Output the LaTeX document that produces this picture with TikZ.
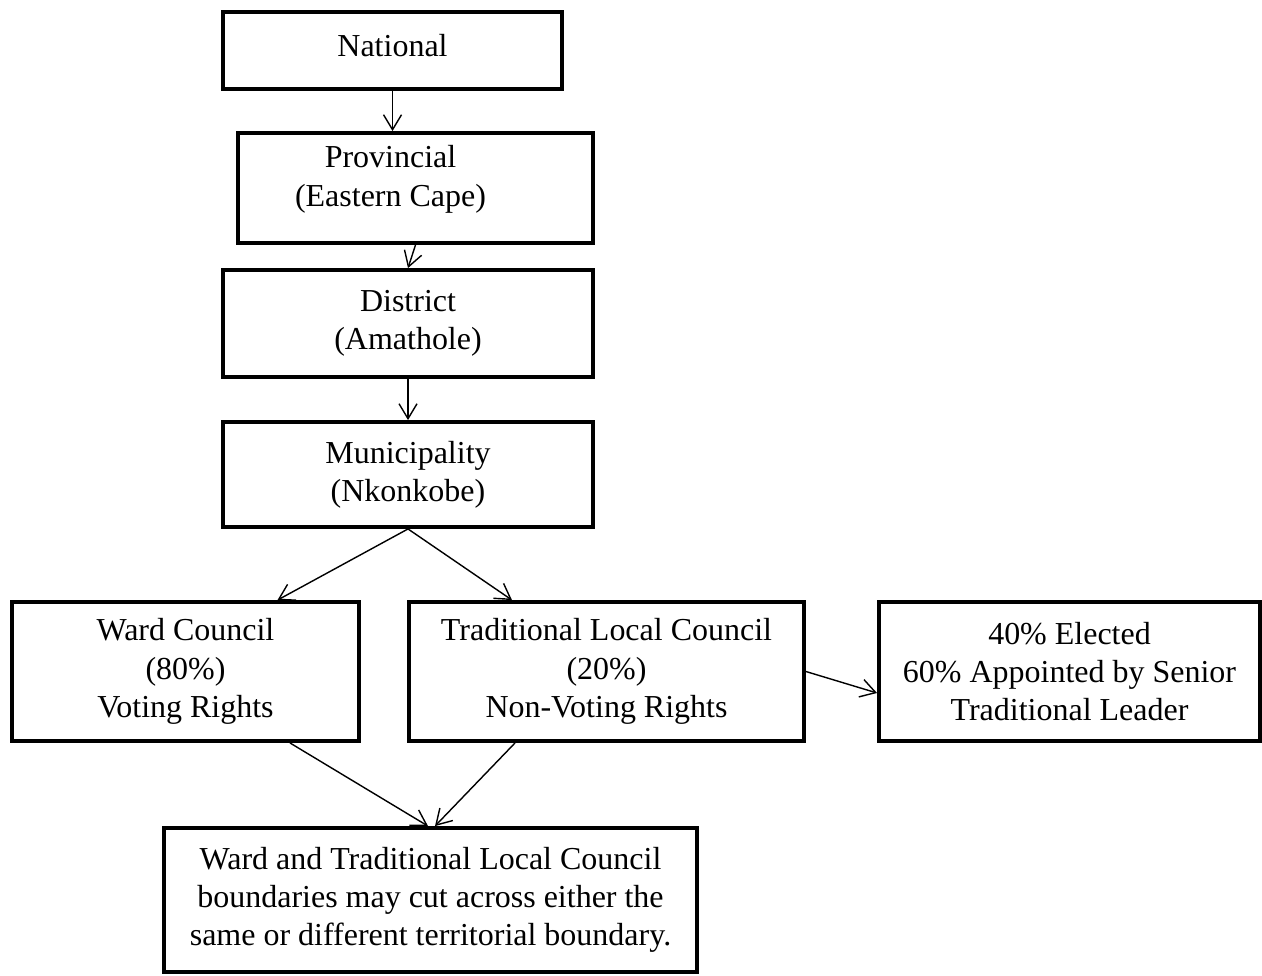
\documentclass[tikz,border=0pt]{standalone}
\usepackage{fontspec}
\setmainfont{Liberation Serif}
\usetikzlibrary{arrows.meta}
\begin{document}
\begin{tikzpicture}[
  font=\fontsize{18.2}{21.8}\selectfont,
  lvl/.style={draw, line width=2.2pt, minimum width=7.4cm, minimum height=2.1cm, align=center, inner sep=2pt},
  arr/.style={-{Straight Barb[length=3mm, width=3.6mm]}, line width=0.8pt}
]
  \useasboundingbox (0,0) rectangle (25.24,-19.5);
  % niveis
  \node[lvl, minimum width=6.78cm, minimum height=1.54cm] (n0) at (7.85,-1.01) {\raisebox{6pt}{National}};
  \node[lvl, minimum width=7.1cm, minimum height=2.2cm]   (n1) at (8.31,-3.76) {\hbox{Provincial\kern1cm}\\\hbox{(Eastern Cape)\kern1cm}\\[-8pt]};
  \node[lvl, minimum height=2.14cm]                       (n2) at (8.16,-6.47) {District\\(Amathole)};
  \node[lvl]                                              (n3) at (8.16,-9.49) {Municipality\\(Nkonkobe)};
  \node[lvl, minimum width=6.94cm, minimum height=2.78cm] (n4) at (3.71,-13.43) {Ward Council\\(80\%)\\Voting Rights};
  \node[lvl, minimum width=7.9cm, minimum height=2.78cm]  (n5) at (12.13,-13.43) {Traditional Local Council\\(20\%)\\Non-Voting Rights};
  \node[lvl, minimum width=7.62cm, minimum height=2.78cm] (n6) at (21.39,-13.43) {40\% Elected\\60\% Appointed by Senior\\Traditional Leader};
  \node[lvl, minimum width=10.66cm, minimum height=2.88cm] (n7) at (8.61,-18.0) {Ward and Traditional Local Council\\boundaries may cut across either the\\same or different territorial boundary.};
  % setas
  \draw[arr] (n0.south) -- (n0.south |- n1.north);
  \draw[arr] (n1.south) -- (n2.north);
  \draw[arr] (n2.south) -- (n3.north);
  \draw[arr] (n3.south) -- ([xshift=1.84cm]n4.north);
  \draw[arr] (n3.south) -- ([xshift=-1.89cm]n5.north);
  \draw[arr] (n5.east) -- ([yshift=-0.43cm]n6.west);
  \draw[arr] ([xshift=2.09cm]n4.south) -- ([xshift=-0.05cm]n7.north);
  \draw[arr] ([xshift=-1.83cm]n5.south) -- ([xshift=0.09cm]n7.north);
\end{tikzpicture}
\end{document}
